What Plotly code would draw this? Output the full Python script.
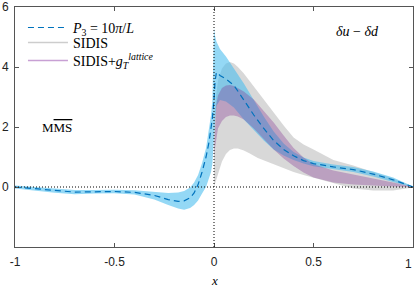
import plotly.graph_objects as go

# ---- data ----
x_blue = [-1, -0.9, -0.8, -0.7, -0.6, -0.5, -0.4, -0.3, -0.23, -0.18, -0.15, -0.12, -0.1, -0.08,
          -0.06, -0.04, -0.025, -0.015, -0.008, 0, 0.005, 0.012, 0.03, 0.06, 0.1, 0.15, 0.2, 0.25,
          0.3, 0.35, 0.4, 0.45, 0.5, 0.6, 0.7, 0.8, 0.9, 1.0]
blue_mid = [0, -0.06, -0.13, -0.17, -0.16, -0.15, -0.18, -0.28, -0.42, -0.48, -0.46, -0.36, -0.2, 0.08,
            0.5, 1.0, 1.5, 1.95, 2.3, 2.9, 3.5, 3.82, 3.72, 3.6, 3.39, 2.9, 2.4, 1.95,
            1.55, 1.25, 1.04, 0.88, 0.78, 0.67, 0.58, 0.43, 0.24, 0.0]
blue_upper = [0.05, 0.0, -0.07, -0.1, -0.1, -0.09, -0.11, -0.16, -0.2, -0.18, -0.13, -0.02, 0.15, 0.4,
              0.8, 1.3, 1.9, 2.4, 2.9, 5.3, 5.05, 4.85, 4.6, 4.35, 3.95, 3.45, 2.9, 2.35,
              1.85, 1.45, 1.17, 0.98, 0.87, 0.75, 0.67, 0.52, 0.32, 0.02]
blue_lower = [-0.05, -0.11, -0.19, -0.24, -0.22, -0.21, -0.25, -0.42, -0.6, -0.72, -0.76, -0.7, -0.6, -0.45,
              -0.22, 0.0, 0.3, 0.5, 0.78, 1.5, 2.2, 2.7, 2.9, 2.85, 2.65, 2.25, 1.9, 1.55,
              1.25, 1.05, 0.9, 0.78, 0.69, 0.59, 0.5, 0.35, 0.17, -0.02]

x_sidis = [0, 0.01, 0.02, 0.04, 0.06, 0.08, 0.1, 0.12, 0.15, 0.18, 0.22, 0.26, 0.3, 0.35, 0.4,
           0.45, 0.5, 0.6, 0.7, 0.8, 0.9, 1.0]
sidis_upper = [2.0, 3.0, 3.55, 3.95, 4.12, 4.17, 4.12, 4.0, 3.78, 3.52, 3.15, 2.8, 2.45, 2.05, 1.65,
               1.42, 1.25, 0.9, 0.72, 0.5, 0.28, 0.02]
sidis_lower = [0.0, 0.2, 0.45, 0.85, 1.1, 1.23, 1.28, 1.28, 1.22, 1.12, 0.97, 0.88, 0.78, 0.63, 0.5,
               0.4, 0.3, 0.12, -0.05, -0.12, -0.12, -0.02]

x_gt = [0, 0.005, 0.01, 0.02, 0.04, 0.06, 0.08, 0.1, 0.12, 0.15, 0.2, 0.25, 0.3, 0.35, 0.4,
        0.45, 0.5, 0.6, 0.7, 0.8, 0.9, 1.0]
gt_upper = [1.0, 2.0, 2.7, 3.05, 3.3, 3.38, 3.4, 3.37, 3.3, 3.18, 2.92, 2.55, 2.15, 1.72, 1.3,
            0.98, 0.76, 0.55, 0.42, 0.3, 0.15, 0.01]
gt_lower = [1.0, 1.3, 1.6, 1.95, 2.2, 2.33, 2.38, 2.38, 2.35, 2.25, 1.95, 1.6, 1.25, 0.95, 0.7,
            0.48, 0.32, 0.15, 0.08, 0.04, 0.02, 0.0]

x_ticks = [-1, -0.5, 0, 0.5, 1]
x_ticklabels = ["-1", "-0.5", "0", "0.5", ""]
last_x_ticklabel = "1"
y_ticks = [0, 2, 4, 6]
y_ticklabels = ["0", "2", "4", "6"]

legend_names = ["<i>P</i><sub>3</sub> = 10<i>π</i>/<i>L</i>", "SIDIS",
                "SIDIS+<i>g</i><sub><i>T</i></sub><sup><i>lattice</i></sup>"]

# ---- figure ----
fig = go.Figure()

def band(x, up, lo, color):
    return go.Scatter(x=list(x) + list(x)[::-1], y=list(up) + list(lo)[::-1], fill="toself",
                      fillcolor=color, line=dict(width=0), mode="lines", showlegend=False,
                      hoverinfo="skip")

fig.add_trace(band(x_sidis, sidis_upper, sidis_lower, "rgba(190,190,190,0.6)"))
fig.add_trace(band(x_blue, blue_upper, blue_lower, "rgba(77,190,238,0.6)"))
fig.add_trace(band(x_gt, gt_upper, gt_lower, "rgba(126,47,142,0.33)"))

fig.add_trace(go.Scatter(x=x_blue, y=blue_mid, mode="lines", name=legend_names[0], legend="legend",
                         line=dict(color="rgb(0,114,189)", width=1.2, dash="6px,4px")))
fig.add_trace(go.Scatter(x=[None], y=[None], mode="lines", name=legend_names[1], legend="legend2",
                         line=dict(color="rgb(205,205,205)", width=1.5)))
fig.add_trace(go.Scatter(x=[None], y=[None], mode="lines", name=legend_names[2], legend="legend3",
                         line=dict(color="rgb(200,160,212)", width=1.5)))

fig.add_shape(type="line", x0=0, x1=0, y0=-2, y1=6, xref="x", yref="y",
              line=dict(color="black", width=1, dash="1px,2px"))
fig.add_shape(type="line", x0=-1, x1=1, y0=0, y1=0, xref="x", yref="y",
              line=dict(color="black", width=1, dash="1px,2px"))

fig.add_annotation(x=0.72, y=5.2, text="<i>δu</i> − <i>δd</i>", showarrow=False,
                   font=dict(family="Liberation Serif", size=14, color="black"))
fig.add_annotation(x=-0.79, y=2.0, text='M<span style="text-decoration:overline">MS</span>',
                   showarrow=False, font=dict(family="Liberation Serif", size=13, color="black"))
fig.add_annotation(x=0, y=-2, yshift=-33, text="<i>x</i>", showarrow=False, xref="x", yref="y",
                   font=dict(family="Liberation Serif", size=13, color="black"))
fig.add_annotation(x=x_ticks[-1], y=-2, xref="x", yref="y", xanchor="right", yanchor="middle",
                   xshift=1, yshift=-17, text=last_x_ticklabel, showarrow=False,
                   font=dict(family="Liberation Sans", size=12, color="#222"))

axis_common = dict(showline=True, linecolor="#555", linewidth=1, mirror="ticks", ticks="inside",
                   ticklen=4, tickcolor="#555", showgrid=False, zeroline=False, automargin=False,
                   ticklabeloverflow="allow",
                   tickfont=dict(family="Liberation Sans", size=12, color="#222"))

fig.update_xaxes(range=[-1, 1], tickvals=x_ticks, ticktext=x_ticklabels, ticklabelstandoff=4,
                 **axis_common)
fig.update_yaxes(range=[-2, 6], tickvals=y_ticks, ticktext=y_ticklabels, ticklabelstandoff=3,
                 **axis_common)

leg_common = dict(x=0.02, xanchor="left", yanchor="middle", bgcolor="rgba(0,0,0,0)",
                  font=dict(family="Liberation Serif", size=14, color="black"), itemwidth=40)
fig.update_layout(width=414, height=286, margin=dict(l=15, r=1, t=7, b=39),
                  plot_bgcolor="white", paper_bgcolor="white",
                  legend=dict(y=0.913, **leg_common),
                  legend2=dict(y=0.85, **leg_common),
                  legend3=dict(y=0.775, **leg_common))

fig.write_html("out.html", config={"displayModeBar": False},
               post_script="document.body.style.margin='0';document.body.style.overflow='hidden';")
